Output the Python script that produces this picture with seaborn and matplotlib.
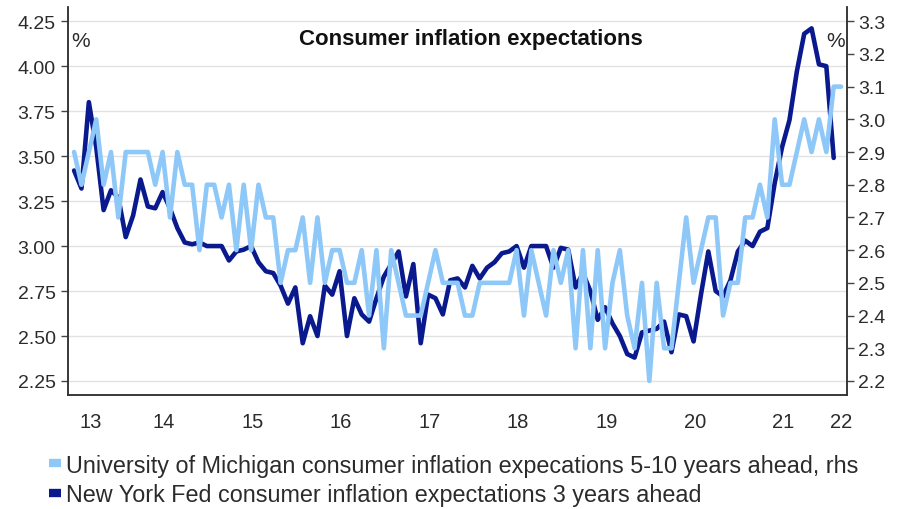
import numpy as np
import pandas as pd
import matplotlib
matplotlib.use("Agg")
import matplotlib.pyplot as plt
from matplotlib.lines import Line2D
import seaborn as sns

# Monthly data, first month June 2013
start_year, start_month = 2013, 6

# New York Fed consumer inflation expectations 3 years ahead (lhs), Jun 2013 - Jan 2022
nyfed = [3.42, 3.32, 3.80, 3.55, 3.20, 3.31, 3.27, 3.05, 3.17, 3.37, 3.22, 3.21,
         3.30, 3.21, 3.10, 3.02, 3.01, 3.02, 3.00, 3.00, 3.00, 2.92, 2.97, 2.98,
         3.00, 2.91, 2.86, 2.85, 2.78, 2.68, 2.77, 2.46, 2.61, 2.50, 2.78, 2.73,
         2.86, 2.50, 2.71, 2.62, 2.58, 2.71, 2.83, 2.90, 2.97, 2.72, 2.90, 2.46,
         2.73, 2.71, 2.62, 2.81, 2.82, 2.77, 2.89, 2.82, 2.88, 2.91, 2.96, 2.97,
         3.00, 2.88, 3.00, 3.00, 3.00, 2.88, 2.99, 2.98, 2.77, 2.85, 2.75, 2.59,
         2.66, 2.57, 2.50, 2.40, 2.38, 2.52, 2.53, 2.54, 2.58, 2.41, 2.62, 2.61,
         2.47, 2.73, 2.97, 2.75, 2.72, 2.81, 2.97, 3.03, 3.00, 3.08, 3.10, 3.35,
         3.55, 3.70, 3.97, 4.18, 4.21, 4.01, 4.00, 3.49]

# University of Michigan 5-10 years ahead (rhs), Jun 2013 - Feb 2022
umich = [2.9, 2.8, 2.9, 3.0, 2.8, 2.9, 2.7, 2.9, 2.9, 2.9, 2.9, 2.8,
         2.9, 2.7, 2.9, 2.8, 2.8, 2.6, 2.8, 2.8, 2.7, 2.8, 2.6, 2.8,
         2.6, 2.8, 2.7, 2.7, 2.5, 2.6, 2.6, 2.7, 2.5, 2.7, 2.5, 2.6,
         2.6, 2.5, 2.5, 2.6, 2.4, 2.6, 2.3, 2.6, 2.5, 2.4, 2.4, 2.4,
         2.5, 2.6, 2.5, 2.5, 2.5, 2.4, 2.4, 2.5, 2.5, 2.5, 2.5, 2.5,
         2.6, 2.4, 2.6, 2.5, 2.4, 2.6, 2.5, 2.6, 2.3, 2.6, 2.3, 2.6,
         2.3, 2.5, 2.6, 2.4, 2.3, 2.5, 2.2, 2.5, 2.3, 2.3, 2.5, 2.7,
         2.5, 2.6, 2.7, 2.7, 2.4, 2.5, 2.5, 2.7, 2.7, 2.8, 2.7, 3.0,
         2.8, 2.8, 2.9, 3.0, 2.9, 3.0, 2.9, 3.1, 3.1]

year_labels = ["13", "14", "15", "16", "17", "18", "19", "20", "21", "22"]
left_ticks = [2.25, 2.50, 2.75, 3.00, 3.25, 3.50, 3.75, 4.00, 4.25]
right_ticks = [2.2, 2.3, 2.4, 2.5, 2.6, 2.7, 2.8, 2.9, 3.0, 3.1, 3.2, 3.3]

dark = "#0a1a8e"
light = "#8ec8f8"
text_col = "#2b2b2b"


def month_axis(n):
    m = np.arange(n) + start_month - 1
    return start_year + (m + 0.85) / 12


df_ny = pd.DataFrame({"t": month_axis(len(nyfed)), "v": nyfed})
df_um = pd.DataFrame({"t": month_axis(len(umich)), "v": umich})

sns.set_style("white")
plt.rcParams["font.family"] = ["Liberation Sans", "DejaVu Sans"]

fig = plt.figure(figsize=(9, 5.1), dpi=100)
ax = fig.add_axes([0.0756, 0.2235, 0.8655, 0.7605])
ax2 = ax.twinx()

sns.lineplot(data=df_ny, x="t", y="v", ax=ax, color=dark, lw=3.3, sort=False)
sns.lineplot(data=df_um, x="t", y="v", ax=ax2, color=light, lw=3.3, sort=False)

ax.set_xlim(2013.419, 2022.221)
ax.set_ylim(2.172, 4.328)
ax2.set_ylim(2.157, 3.343)

for a in (ax, ax2):
    a.set_xlabel("")
    a.set_ylabel("")
    a.spines["top"].set_visible(False)
    for s in ("left", "right", "bottom"):
        a.spines[s].set_color("#333333")
        a.spines[s].set_linewidth(1.1)

ax.set_yticks(left_ticks)
ax.set_yticklabels([f"{v:.2f}" for v in left_ticks])
ax2.set_yticks(right_ticks)
ax2.set_yticklabels([f"{v:.1f}" for v in right_ticks])

ax.yaxis.grid(True, color="#e2e2e2", lw=1)
ax.set_axisbelow(True)

ax.set_xticks(range(2014, 2023))
ax.set_xticklabels([])
label_pos = [2013.68] + [y + 0.5 for y in range(2014, 2022)] + [2022.15]
ax.set_xticks(label_pos, minor=True)
ax.set_xticklabels(year_labels, minor=True)

ax.tick_params(axis="x", which="major", direction="out", length=5, width=1, color="#444444")
ax.tick_params(axis="x", which="minor", length=0, pad=12, labelsize=14.5, labelcolor=text_col)
ax.tick_params(axis="y", direction="out", length=5, width=1, color="#444444",
               pad=4, labelsize=14, labelcolor=text_col, left=True)
ax2.tick_params(axis="y", direction="out", length=5, width=1, color="#444444",
                pad=3, labelsize=14, labelcolor=text_col, right=True)

fig.text(0.523, 0.922, "Consumer inflation expectations", ha="center", va="center",
         fontsize=16, fontweight="bold", color="#111111")
fig.text(0.089, 0.918, "%", ha="center", va="center", fontsize=15, color=text_col)
fig.text(0.928, 0.918, "%", ha="center", va="center", fontsize=15, color=text_col)

handles = [Line2D([], [], color=light, lw=6, solid_capstyle="butt"),
           Line2D([], [], color=dark, lw=6, solid_capstyle="butt")]
labels = ["University of Michigan consumer inflation expecations 5-10 years ahead, rhs",
          "New York Fed consumer inflation expectations 3 years ahead"]
fig.legend(handles, labels, loc="center left", bbox_to_anchor=(0.054, 0.057),
           frameon=False, fontsize=16.8, handlelength=0.55, handletextpad=0.2,
           labelspacing=0.28, borderaxespad=0, borderpad=0, labelcolor=text_col)

fig.savefig("out.png", dpi=100)
